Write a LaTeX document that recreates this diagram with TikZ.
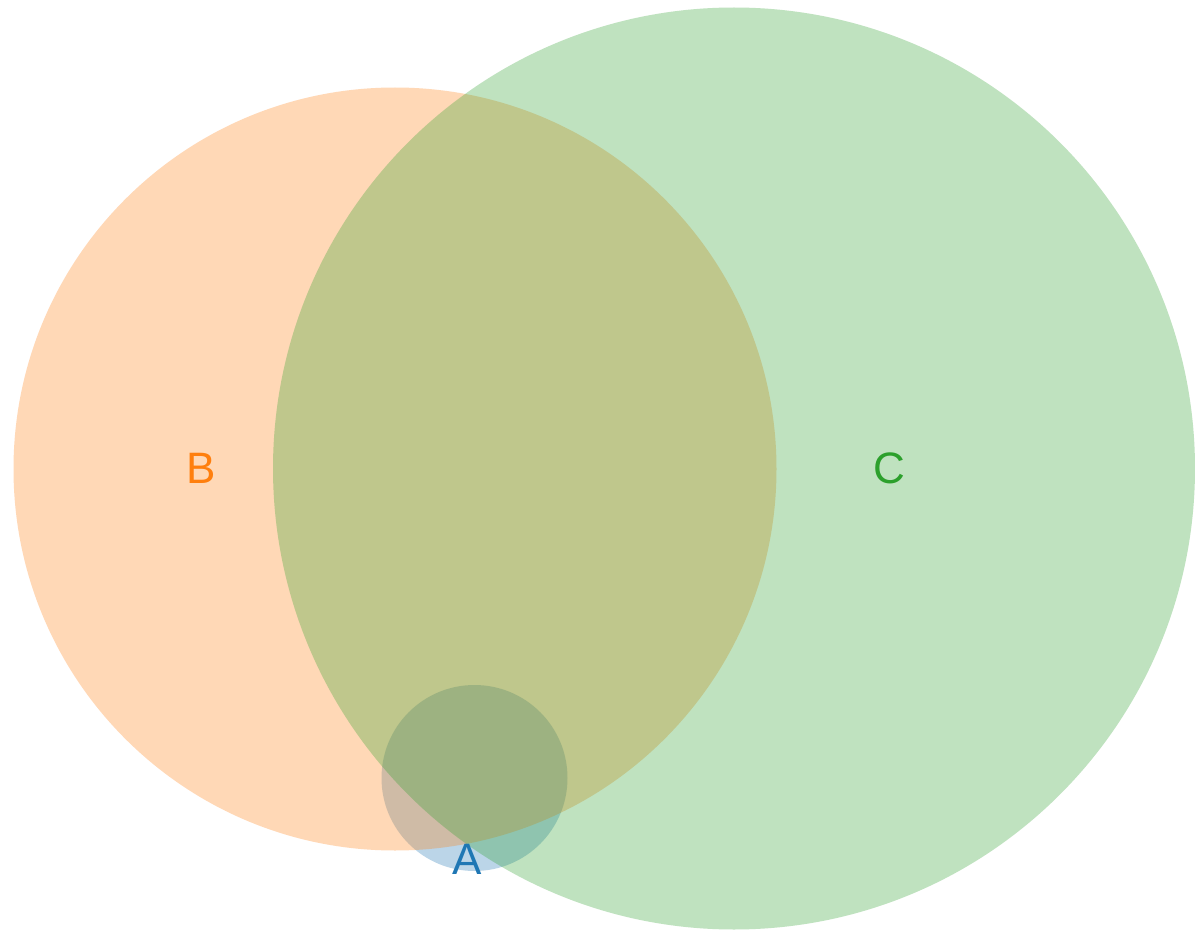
\documentclass[tikz,border=0pt]{standalone}
\usepackage{fontspec}
\setmainfont{Liberation Sans}
\definecolor{tabblue}{HTML}{1F77B4}
\definecolor{taborange}{HTML}{FF7F0E}
\definecolor{tabgreen}{HTML}{2CA02C}
\begin{document}
\begin{tikzpicture}[x=1pt,y=-1pt,
  setcircle/.style={fill opacity=0.3, draw=none},
  setlabel/.style={inner sep=0pt, anchor=base, font=\fontsize{44}{44}\selectfont}]
\useasboundingbox (0,0) rectangle (1195,931);
\fill[white] (0,0) rectangle (1195,931);
\fill[setcircle, tabblue] (474.5,778) circle (93);
\fill[setcircle, taborange] (395,469) circle (381.5);
\fill[setcircle, tabgreen] (734,468.5) circle (461);
\node[setlabel, text=taborange] (lb) at (201,483) {B};
\node[setlabel, text=tabgreen] (lc) at (889,483) {C};
\node[setlabel, text=tabblue] (la) at (467,874) {A};
\end{tikzpicture}
\end{document}
